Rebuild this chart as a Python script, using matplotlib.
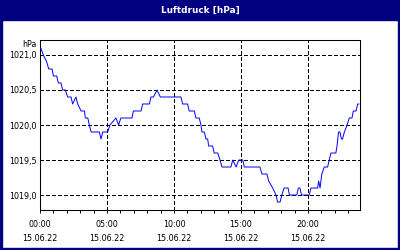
import pandas as pd
import matplotlib
matplotlib.use("Agg")
import matplotlib.pyplot as plt
import matplotlib.dates as mdates
from matplotlib.patches import Rectangle
from matplotlib.ticker import FuncFormatter, MultipleLocator

# ----------------------
# data (15.06.22)
# ----------------------
times = [
    "00:00", "00:04", "00:15", "00:30", "00:39", "00:54", "01:00", "01:15", "01:22", "01:34",
    "01:41", "01:53", "02:04", "02:19", "02:26", "02:41", "02:49", "03:04", "03:19", "03:23",
    "03:34", "03:41", "03:49", "04:26", "04:33", "04:41", "05:03", "05:13", "05:40", "05:52",
    "06:02", "06:52", "06:58", "07:32", "07:40", "08:10", "08:17", "08:28", "08:44", "08:59",
    "10:31", "10:39", "11:01", "11:08", "11:31", "11:38", "11:53", "12:01", "12:05", "12:16",
    "12:23", "12:31", "12:35", "12:53", "13:00", "13:16", "13:26", "13:35", "14:15", "14:23",
    "14:38", "14:50", "15:08", "15:15", "16:25", "16:34", "16:56", "17:04", "17:22", "17:37",
    "17:44", "17:55", "18:03", "18:13", "18:31", "18:37", "19:10", "19:17", "19:24", "19:31",
    "20:06", "20:13", "20:43", "20:48", "20:54", "21:02", "21:13", "21:28", "21:35", "21:43",
    "22:05", "22:10", "22:17", "22:23", "22:30", "22:35", "22:43", "22:55", "23:05", "23:17",
    "23:23", "23:35", "23:43", "23:48",
]
pressure = [
    1021.1, 1021.1, 1021.0, 1020.9, 1020.8, 1020.8, 1020.7, 1020.7, 1020.6, 1020.6,
    1020.5, 1020.5, 1020.4, 1020.4, 1020.3, 1020.4, 1020.3, 1020.2, 1020.2, 1020.1,
    1020.1, 1020.0, 1019.9, 1019.9, 1019.8, 1019.9, 1019.9, 1020.0, 1020.1, 1020.0,
    1020.1, 1020.1, 1020.2, 1020.2, 1020.3, 1020.3, 1020.4, 1020.4, 1020.5, 1020.4,
    1020.4, 1020.3, 1020.3, 1020.2, 1020.2, 1020.1, 1020.1, 1020.0, 1019.9, 1019.9,
    1019.8, 1019.8, 1019.7, 1019.7, 1019.6, 1019.6, 1019.5, 1019.4, 1019.4, 1019.5,
    1019.4, 1019.5, 1019.5, 1019.4, 1019.4, 1019.3, 1019.3, 1019.2, 1019.1, 1019.0,
    1018.9, 1018.9, 1019.0, 1019.1, 1019.1, 1019.0, 1019.0, 1019.1, 1019.1, 1019.0,
    1019.0, 1019.1, 1019.1, 1019.2, 1019.1, 1019.3, 1019.4, 1019.4, 1019.5, 1019.6,
    1019.6, 1019.7, 1019.9, 1019.9, 1019.8, 1019.8, 1019.9, 1020.0, 1020.1, 1020.1,
    1020.2, 1020.2, 1020.3, 1020.3,
]
day = "2022-06-15"
title = "Luftdruck [hPa]"
unit = "hPa"

df = pd.DataFrame({"time": pd.to_datetime([day + " " + t for t in times]), "p": pressure})

NAVY = "#000080"
W, H = 400, 250

fig = plt.figure(figsize=(4, 2.5), dpi=100)
fig.patch.set_facecolor("white")
ax = fig.add_axes([40 / W, 1 - 210 / H, 320 / W, 170 / H])

ax.plot(df["time"], df["p"], color="#0000ff", lw=0.7, antialiased=True, zorder=3)

ax.set_xlim(pd.Timestamp(day + " 00:00"), pd.Timestamp(day + " 23:53"))
ax.set_ylim(1018.786, 1021.214)

ax.xaxis.set_major_locator(mdates.HourLocator(byhour=range(0, 24, 5)))
ax.xaxis.set_minor_locator(mdates.HourLocator())
ax.xaxis.set_major_formatter(mdates.DateFormatter("%H:%M\n%d.%m.%y"))
ax.yaxis.set_major_locator(MultipleLocator(0.5))
ax.yaxis.set_major_formatter(FuncFormatter(lambda v, p: f"{v:.1f}".replace(".", ",")))

ax.grid(True, color="black", linestyle=(0, (4, 3)), lw=0.7, antialiased=False)
ax.tick_params(axis="y", length=0, pad=2.2, labelsize=5.8)
ax.tick_params(axis="x", which="both", direction="out", length=2.2, width=0.7, pad=5, labelsize=5.8)
for lab in ax.get_xticklabels():
    lab.set_linespacing(1.75)
for s in ax.spines.values():
    s.set_linewidth(0.75)
    s.set_color("black")

fig.text(37 / W, 1 - 44.5 / H, unit, ha="right", va="center", fontsize=5.8)

# window frame + title bar
fig.patches.append(Rectangle((0, 1 - 20 / H), 1, 20 / H, transform=fig.transFigure, color=NAVY, zorder=0))
fig.patches.append(Rectangle((0, 0), 2 / W, 1, transform=fig.transFigure, color=NAVY, zorder=0))
fig.patches.append(Rectangle((1 - 2 / W, 0), 2 / W, 1, transform=fig.transFigure, color=NAVY, zorder=0))
fig.patches.append(Rectangle((0, 0), 1, 2 / H, transform=fig.transFigure, color=NAVY, zorder=0))
fig.text(0.5, 1 - 10 / H, title, ha="center", va="center", color="white", fontsize=6.4, fontweight="bold")

fig.savefig("out.png", dpi=100)
